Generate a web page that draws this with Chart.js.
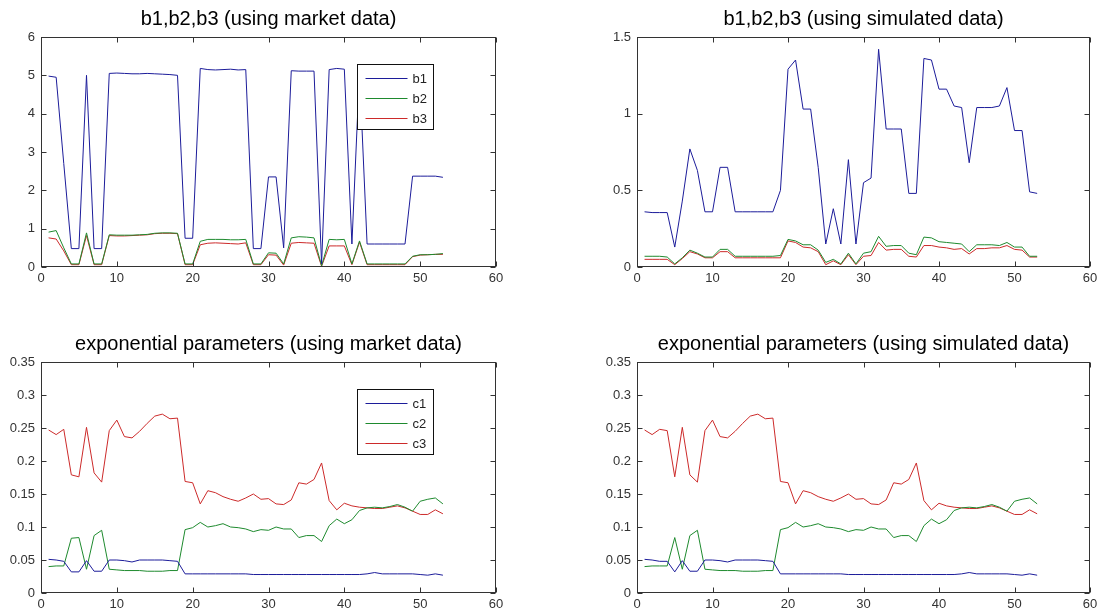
<!DOCTYPE html>
<html>
<head>
<meta charset="utf-8">
<script src="https://cdn.jsdelivr.net/npm/chart.js@4.4.0/dist/chart.umd.min.js"></script>
<style>
  html, body { margin: 0; padding: 0; background: #fff; }
  #fig { position: relative; width: 1103px; height: 615px; background: #fff; }
  canvas { position: absolute; }
</style>
</head>
<body>
<div id="fig">
  <canvas id="bMarket" width="551" height="300" style="left:0;top:0"></canvas>
  <canvas id="bSim" width="552" height="300" style="left:551px;top:0"></canvas>
  <canvas id="cMarket" width="551" height="315" style="left:0;top:300px"></canvas>
  <canvas id="cSim" width="552" height="315" style="left:551px;top:300px"></canvas>
</div>
<script>
// x positions (observation index)
const xs = [1,2,3,4,5,6,7,8,9,10,11,12,13,14,15,16,17,18,19,20,21,22,23,24,25,26,27,
  28,29,30,31,32,33,34,35,36,37,38,39,40,41,42,43,44,45,46,47,48,49,50,51,52,53];

// b1,b2,b3 - market data
const b1Market = [4.98,4.95,2.7,0.48,0.48,5.0,0.48,0.48,5.05,5.06,5.05,5.04,5.04,5.05,5.04,5.03,5.02,5.0,
  0.75,0.75,5.18,5.15,5.14,5.15,5.16,5.14,5.15,0.48,0.48,2.35,2.35,0.5,5.12,5.11,5.11,5.11,0.08,
  5.15,5.18,5.16,0.6,5.1,0.6,0.6,0.6,0.6,0.6,0.6,2.37,2.37,2.37,2.37,2.34];
const b2Market = [0.91,0.95,0.5,0.08,0.08,0.89,0.08,0.08,0.84,0.83,0.83,0.83,0.84,0.85,0.88,0.89,0.89,0.88,
  0.08,0.08,0.67,0.72,0.72,0.72,0.71,0.71,0.72,0.08,0.08,0.37,0.36,0.08,0.76,0.79,0.78,0.76,0.03,
  0.72,0.71,0.72,0.08,0.68,0.08,0.08,0.08,0.08,0.08,0.08,0.28,0.32,0.32,0.33,0.35];
const b3Market = [0.76,0.73,0.42,0.06,0.06,0.82,0.06,0.06,0.82,0.81,0.81,0.82,0.83,0.84,0.87,0.88,0.88,0.87,
  0.06,0.06,0.58,0.62,0.63,0.62,0.61,0.6,0.63,0.06,0.06,0.32,0.31,0.05,0.62,0.64,0.63,0.62,0.02,
  0.55,0.55,0.55,0.06,0.65,0.06,0.06,0.06,0.06,0.06,0.06,0.27,0.31,0.32,0.33,0.33];

// b1,b2,b3 - simulated data
const b1Sim = [0.36,0.355,0.355,0.355,0.13,0.43,0.77,0.63,0.36,0.36,0.65,0.65,0.36,0.36,0.36,0.36,0.36,0.36,
  0.5,1.29,1.35,1.03,1.03,0.65,0.15,0.38,0.15,0.7,0.15,0.55,0.58,1.42,0.9,0.9,0.9,0.48,0.48,
  1.36,1.35,1.16,1.16,1.05,1.04,0.68,1.04,1.04,1.04,1.05,1.17,0.89,0.89,0.49,0.48];
const b2Sim = [0.07,0.07,0.07,0.065,0.02,0.06,0.11,0.09,0.065,0.065,0.115,0.115,0.07,0.07,0.07,0.07,0.07,0.07,
  0.075,0.18,0.17,0.145,0.145,0.11,0.03,0.05,0.02,0.09,0.02,0.09,0.1,0.2,0.135,0.14,0.14,0.09,0.08,
  0.195,0.19,0.165,0.16,0.155,0.15,0.1,0.145,0.145,0.145,0.14,0.16,0.13,0.13,0.07,0.07];
const b3Sim = [0.05,0.05,0.05,0.05,0.015,0.055,0.1,0.085,0.06,0.06,0.1,0.1,0.06,0.06,0.06,0.06,0.06,0.06,
  0.06,0.17,0.16,0.13,0.125,0.1,0.015,0.04,0.015,0.08,0.015,0.07,0.075,0.16,0.11,0.115,0.115,0.07,0.065,
  0.14,0.14,0.13,0.125,0.115,0.12,0.085,0.12,0.12,0.125,0.125,0.14,0.115,0.11,0.065,0.065];

// exponential parameters - market data
const c1Market = [0.051,0.05,0.048,0.032,0.032,0.049,0.033,0.033,0.05,0.05,0.049,0.047,0.05,0.05,0.05,0.05,0.049,0.048,
  0.029,0.029,0.029,0.029,0.029,0.029,0.029,0.029,0.029,0.028,0.028,0.028,0.028,0.028,0.028,0.028,0.028,0.028,0.028,
  0.028,0.028,0.028,0.028,0.028,0.029,0.031,0.029,0.029,0.029,0.029,0.029,0.028,0.027,0.029,0.027];
const c2Market = [0.04,0.041,0.041,0.083,0.084,0.036,0.087,0.095,0.036,0.035,0.034,0.034,0.034,0.033,0.033,0.033,0.034,0.034,
  0.096,0.099,0.107,0.1,0.102,0.105,0.1,0.099,0.097,0.093,0.096,0.095,0.1,0.097,0.097,0.084,0.087,0.087,0.078,
  0.102,0.112,0.105,0.111,0.125,0.129,0.13,0.129,0.131,0.134,0.13,0.124,0.139,0.142,0.144,0.135];
const c3Market = [0.247,0.24,0.248,0.179,0.176,0.251,0.182,0.168,0.246,0.262,0.237,0.235,0.245,0.257,0.268,0.271,0.264,0.265,
  0.169,0.167,0.135,0.155,0.152,0.146,0.142,0.139,0.144,0.15,0.142,0.143,0.135,0.134,0.141,0.167,0.165,0.172,0.197,
  0.14,0.126,0.136,0.132,0.13,0.129,0.128,0.128,0.13,0.132,0.129,0.124,0.119,0.119,0.126,0.12];

// exponential parameters - simulated data
const c1Sim = [0.051,0.05,0.048,0.048,0.032,0.049,0.033,0.033,0.05,0.05,0.049,0.047,0.05,0.05,0.05,0.05,0.049,0.048,
  0.029,0.029,0.029,0.029,0.029,0.029,0.029,0.029,0.029,0.028,0.028,0.028,0.028,0.028,0.028,0.028,0.028,0.028,0.028,
  0.028,0.028,0.028,0.028,0.028,0.029,0.031,0.029,0.029,0.029,0.029,0.029,0.028,0.027,0.029,0.027];
const c2Sim = [0.04,0.041,0.041,0.041,0.084,0.036,0.087,0.095,0.036,0.035,0.034,0.034,0.034,0.033,0.033,0.033,0.034,0.034,
  0.096,0.099,0.107,0.1,0.102,0.105,0.1,0.099,0.097,0.093,0.096,0.095,0.1,0.097,0.097,0.084,0.087,0.087,0.078,
  0.102,0.112,0.105,0.111,0.125,0.129,0.13,0.129,0.131,0.134,0.13,0.124,0.139,0.142,0.144,0.135];
const c3Sim = [0.247,0.24,0.248,0.246,0.176,0.251,0.179,0.168,0.246,0.262,0.237,0.235,0.245,0.257,0.268,0.271,0.264,0.265,
  0.169,0.167,0.135,0.155,0.152,0.146,0.142,0.139,0.144,0.15,0.142,0.143,0.135,0.134,0.141,0.167,0.165,0.172,0.197,
  0.14,0.126,0.136,0.132,0.13,0.129,0.128,0.128,0.13,0.132,0.129,0.124,0.119,0.119,0.126,0.12];

const BLUE = '#1c1c9a';
const GREEN = '#1e8a2e';
const RED = '#cc2a2a';
const FONT = 'Arial, "Liberation Sans", sans-serif';
const TICK_COLOR = '#333';

// matlab style box, inward ticks and boxed legend
const matlabAxes = {
  id: 'matlabAxes',
  afterDatasetsDraw(chart, args, opts) {
    const ctx = chart.ctx;
    const a = chart.chartArea;
    const l = Math.round(a.left) + 0.5, r = Math.round(a.right) - 0.5;
    const t = Math.round(a.top) + 0.5, b = Math.round(a.bottom) - 0.5;
    ctx.save();
    ctx.strokeStyle = '#333';
    ctx.lineWidth = 1;
    ctx.strokeRect(l, t, r - l, b - t);
    ctx.beginPath();
    chart.scales.x.ticks.forEach(tk => {
      const px = Math.round(chart.scales.x.getPixelForValue(tk.value)) + 0.5;
      ctx.moveTo(px, b); ctx.lineTo(px, b - 5);
      ctx.moveTo(px, t); ctx.lineTo(px, t + 5);
    });
    chart.scales.y.ticks.forEach(tk => {
      const py = Math.round(chart.scales.y.getPixelForValue(tk.value)) + 0.5;
      ctx.moveTo(l, py); ctx.lineTo(l + 5, py);
      ctx.moveTo(r, py); ctx.lineTo(r - 5, py);
    });
    ctx.stroke();

    if (opts.show) {
      const bx = Math.round(a.right - 139) + 0.5;
      const by = Math.round(a.top + 27) + 0.5;
      ctx.fillStyle = '#fff';
      ctx.fillRect(bx, by, 76, 65);
      ctx.strokeStyle = '#111';
      ctx.strokeRect(bx, by, 76, 65);
      ctx.font = '13px ' + FONT;
      ctx.textBaseline = 'middle';
      ctx.textAlign = 'left';
      chart.data.datasets.forEach((ds, i) => {
        const y = Math.round(by + 13 + i * 20.3) + 0.5;
        ctx.strokeStyle = ds.borderColor;
        ctx.beginPath();
        ctx.moveTo(bx + 8, y);
        ctx.lineTo(bx + 50, y);
        ctx.stroke();
        ctx.fillStyle = '#222';
        ctx.fillText(ds.label, bx + 55, y + 1);
      });
    }
    ctx.restore();
  }
};

function fmt(v) {
  return String(Math.round(v * 100) / 100);
}

function makePanel(id, p) {
  new Chart(document.getElementById(id), {
    type: 'line',
    data: {
      datasets: p.series.map(s => ({
        label: s.label,
        data: xs.map((x, i) => ({ x: x, y: s.values[i] })),
        borderColor: s.color,
        backgroundColor: s.color,
        borderWidth: 1,
        pointRadius: 0,
        tension: 0,
        fill: false
      }))
    },
    options: {
      responsive: false,
      animation: false,
      layout: { padding: { left: p.padLeft, right: p.padRight, top: 0, bottom: 0 } },
      plugins: {
        legend: { display: false },
        tooltip: { enabled: false },
        title: {
          display: true,
          text: p.title,
          fullSize: false,
          color: '#000',
          font: { family: FONT, size: 20, weight: 'normal' },
          padding: { top: p.titleTop, bottom: p.titleBottom }
        },
        matlabAxes: { show: p.legend }
      },
      scales: {
        x: {
          type: 'linear',
          min: 0, max: 60,
          ticks: { stepSize: 10, padding: 4, color: TICK_COLOR, font: { family: FONT, size: 13 }, maxRotation: 0 },
          grid: { display: false, drawTicks: false },
          border: { display: false },
          afterFit: s => { s.height = p.xHeight; }
        },
        y: {
          min: 0, max: p.yMax,
          ticks: { stepSize: p.yStep, padding: 6, color: TICK_COLOR, font: { family: FONT, size: 13 }, callback: fmt },
          grid: { display: false, drawTicks: false },
          border: { display: false },
          afterFit: s => { s.width = 41; }
        }
      }
    },
    plugins: [matlabAxes]
  });
}

makePanel('bMarket', {
  title: 'b1,b2,b3 (using market data)', yMax: 6, yStep: 1, legend: true,
  padLeft: 0, padRight: 55, xHeight: 33, titleTop: 7, titleBottom: 6,
  series: [
    { label: 'b1', values: b1Market, color: BLUE },
    { label: 'b2', values: b2Market, color: GREEN },
    { label: 'b3', values: b3Market, color: RED }
  ]
});

makePanel('bSim', {
  title: 'b1,b2,b3 (using simulated data)', yMax: 1.5, yStep: 0.5, legend: false,
  padLeft: 45, padRight: 13, xHeight: 33, titleTop: 7, titleBottom: 6,
  series: [
    { label: 'b1', values: b1Sim, color: BLUE },
    { label: 'b2', values: b2Sim, color: GREEN },
    { label: 'b3', values: b3Sim, color: RED }
  ]
});

makePanel('cMarket', {
  title: 'exponential parameters (using market data)', yMax: 0.35, yStep: 0.05, legend: true,
  padLeft: 0, padRight: 55, xHeight: 22, titleTop: 32.7, titleBottom: 5.3,
  series: [
    { label: 'c1', values: c1Market, color: BLUE },
    { label: 'c2', values: c2Market, color: GREEN },
    { label: 'c3', values: c3Market, color: RED }
  ]
});

makePanel('cSim', {
  title: 'exponential parameters (using simulated data)', yMax: 0.35, yStep: 0.05, legend: false,
  padLeft: 45, padRight: 13, xHeight: 22, titleTop: 32.7, titleBottom: 5.3,
  series: [
    { label: 'c1', values: c1Sim, color: BLUE },
    { label: 'c2', values: c2Sim, color: GREEN },
    { label: 'c3', values: c3Sim, color: RED }
  ]
});
</script>
</body>
</html>
